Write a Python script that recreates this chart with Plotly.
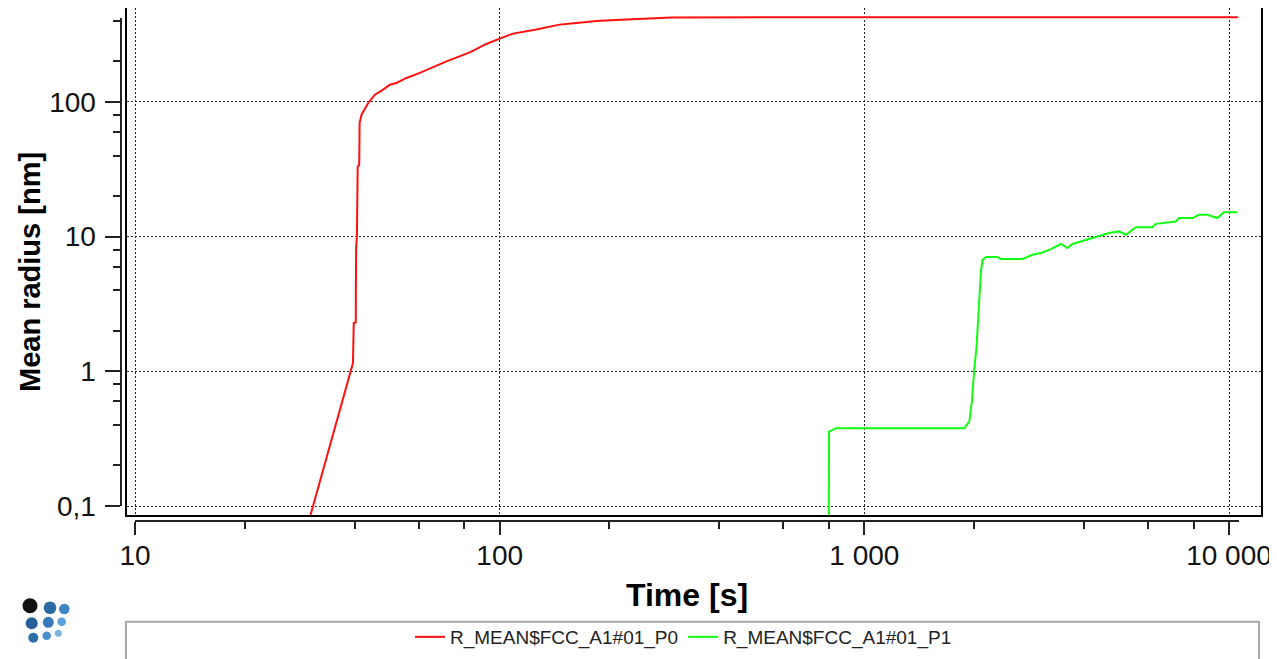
import plotly.graph_objects as go

# ---------------- data ----------------
t_p0 = [28, 30.8, 39.1, 39.6, 39.8, 40.3, 40.4, 40.6, 40.8, 41.2, 41.3, 41.8, 43.6, 45.5,
        47.9, 50.0, 52.1, 55.5, 60.4, 65.7, 71.5, 82.8, 91.9, 100, 108.8, 126.1, 146,
        162.3, 184.1, 215.5, 295.4, 663.6, 10590]
r_p0 = [0.04, 0.1, 1.02, 1.15, 2.28, 2.3, 8.4, 10.0, 33, 34, 69.5, 80, 97.8, 112.7,
        122.8, 133.7, 137.6, 150, 163.4, 181, 199, 232, 268, 294, 320, 343, 373,
        384, 397, 406, 421, 423, 423]

t_p1 = [798, 800, 837, 1880, 1940, 1972, 2001, 2031, 2053, 2066, 2088, 2109, 2155, 2318,
        2368, 2715, 2891, 3080, 3248, 3459, 3606, 3722, 4223, 4688, 4995, 5212, 5551,
        6166, 6300, 7145, 7295, 7935, 8276, 8720, 9290, 9686, 10540]
r_p1 = [0.02, 0.356, 0.378, 0.378, 0.423, 0.596, 1.02, 1.52, 2.55, 3.69, 5.5, 6.71, 7.03,
        7.03, 6.8, 6.8, 7.31, 7.6, 8.06, 8.79, 8.2, 8.79, 9.73, 10.6, 10.9, 10.3, 11.7,
        11.7, 12.4, 12.9, 13.7, 13.7, 14.5, 14.5, 13.7, 15.1, 15.1]

series_names = ["R_MEAN$FCC_A1#01_P0", "R_MEAN$FCC_A1#01_P1"]

x_major = [10, 100, 1000, 10000]
x_major_text = ["10", "100", "1 000", "10 000"]
x_minor = [20, 40, 60, 80, 200, 400, 600, 800, 2000, 4000, 6000, 8000]
y_major = [0.1, 1, 10, 100]
y_major_text = ["0,1", "1", "10", "100"]
y_minor = [0.2, 0.4, 0.6, 0.8, 2, 4, 6, 8, 20, 40, 60, 80, 200, 400]

x_title = "Time [s]"
y_title = "Mean radius [nm]"

# ---------------- figure ----------------
W, H = 1277, 659
FONT = "Liberation Sans"
OFF = 8  # page body margin: figure pixel = screen pixel - 8

def px(x):
    return (x - OFF) / W

def py(y):
    return (H - (y - OFF)) / H

fig = go.Figure()
fig.add_trace(go.Scatter(x=t_p0, y=r_p0, mode="lines", name=series_names[0],
                         line=dict(color="#ff1010", width=2)))
fig.add_trace(go.Scatter(x=t_p1, y=r_p1, mode="lines", name=series_names[1],
                         line=dict(color="#10ff10", width=2)))
# invisible helper so the detached tick axes get drawn
fig.add_trace(go.Scatter(x=t_p0, y=r_p0, xaxis="x2", yaxis="y2", mode="lines",
                         line=dict(width=0), opacity=0, showlegend=False,
                         hoverinfo="skip"))

grid_dash = "1.5px,2.5px"
fig.update_layout(
    width=W, height=H,
    margin=dict(l=0, r=0, t=0, b=0, autoexpand=False),
    paper_bgcolor="#ffffff", plot_bgcolor="rgba(0,0,0,0)",
    font=dict(family=FONT, color="#111111"),
    showlegend=True,
    xaxis=dict(type="log", domain=[px(127), px(1261)], range=[0.97806, 4.0877],
               showticklabels=False, ticks="", tickvals=x_major, automargin=False,
               showgrid=True, gridcolor="#222222", gridwidth=1.3, griddash=grid_dash,
               showline=True, linecolor="#000000", linewidth=2, mirror=True,
               zeroline=False, fixedrange=True),
    yaxis=dict(type="log", domain=[py(515), py(8)], range=[-1.0668, 2.6951],
               showticklabels=False, ticks="", tickvals=y_major, automargin=False,
               showgrid=True, gridcolor="#222222", gridwidth=1.3, griddash=grid_dash,
               showline=True, linecolor="#000000", linewidth=2, mirror=True,
               zeroline=False, fixedrange=True),
    xaxis2=dict(type="log", domain=[px(135), px(1239)], range=[1, 4.0274],
                anchor="free", position=py(520.5), automargin=False,
                showgrid=False, zeroline=False,
                showline=True, linecolor="#222222", linewidth=2,
                ticks="outside", ticklen=13, tickwidth=2, tickcolor="#222222",
                tickvals=x_major, ticktext=x_major_text, ticklabelstandoff=-3,
                tickfont=dict(family=FONT, size=28, color="#111111"),
                minor=dict(tickvals=x_minor, ticks="outside", ticklen=7,
                           tickwidth=2, tickcolor="#222222", showgrid=False),
                fixedrange=True),
    yaxis2=dict(type="log", domain=[py(506), py(17.6)], range=[-1, 2.6263],
                anchor="free", position=px(120.5), automargin=False,
                showgrid=False, zeroline=False,
                showline=True, linecolor="#222222", linewidth=2,
                ticks="outside", ticklen=15, tickwidth=2, tickcolor="#222222",
                tickvals=y_major, ticktext=y_major_text, ticklabelstandoff=3,
                tickfont=dict(family=FONT, size=28, color="#111111"),
                minor=dict(tickvals=y_minor, ticks="outside", ticklen=7,
                           tickwidth=2, tickcolor="#222222", showgrid=False),
                fixedrange=True),
    legend=dict(orientation="h", x=px(683.5), xanchor="center", y=py(637),
                yanchor="middle", bgcolor="rgba(0,0,0,0)", borderwidth=0,
                font=dict(family=FONT, size=19, color="#222222"),
                itemwidth=30),
)

# axis titles
fig.add_annotation(text="<b>" + x_title + "</b>", xref="paper", yref="paper",
                   x=px(686.5), y=py(595), showarrow=False,
                   font=dict(family=FONT, size=32, color="#000000"),
                   xanchor="center", yanchor="middle")
fig.add_annotation(text="<b>" + y_title + "</b>", xref="paper", yref="paper",
                   x=px(30), y=py(272), showarrow=False, textangle=-90,
                   font=dict(family=FONT, size=29, color="#000000"),
                   xanchor="center", yanchor="middle")

# legend frame (extends beyond the bottom edge)
fig.add_shape(type="rect", xref="paper", yref="paper",
              x0=px(126), x1=px(1259), y0=-0.2, y1=py(621.7),
              line=dict(color="#a8a8a8", width=2), fillcolor="rgba(0,0,0,0)",
              layer="below")

# logo (small spheres)
logo = [(30, 605.7, 7.5, "#111111"), (50, 607.7, 6.3, "#2b6aa3"), (64.3, 609, 5.3, "#3f86c4"),
        (31.7, 623.3, 6, "#23609a"), (48.3, 622.3, 5.5, "#3479b8"), (61.7, 621.7, 4.3, "#5aa0d8"),
        (33.3, 637.7, 5, "#2e6fab"), (46.7, 635.7, 4.3, "#4a8fcc"), (58.3, 633.3, 3.5, "#7ab4e4")]
for cx, cy, rr, col in logo:
    fig.add_shape(type="circle", xref="paper", yref="paper",
                  x0=px(cx - rr), x1=px(cx + rr), y0=py(cy + rr), y1=py(cy - rr),
                  line=dict(width=0), fillcolor=col)

fig.write_html("out.html", config={"displayModeBar": False})
